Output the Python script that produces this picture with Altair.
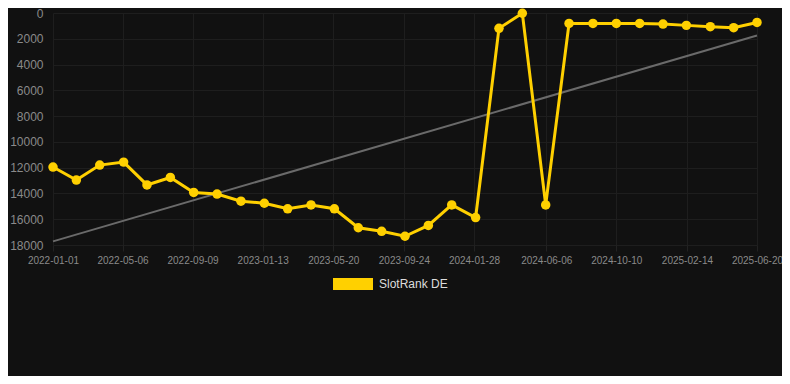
import altair as alt
import pandas as pd

dates = [
    "2022-01-01", "2022-02-12", "2022-03-26", "2022-05-08", "2022-06-19",
    "2022-07-31", "2022-09-11", "2022-10-23", "2022-12-05", "2023-01-16",
    "2023-02-27", "2023-04-10", "2023-05-22", "2023-07-04", "2023-08-15",
    "2023-09-26", "2023-11-07", "2023-12-19", "2024-01-31", "2024-03-13",
    "2024-04-24", "2024-06-05", "2024-07-17", "2024-08-29", "2024-10-10",
    "2024-11-21", "2025-01-02", "2025-02-13", "2025-03-28", "2025-05-09",
    "2025-06-20",
]
ranks = [
    11950, 12960, 11800, 11570, 13340,
    12760, 13920, 14050, 14600, 14760,
    15190, 14890, 15190, 16660, 16940,
    17320, 16480, 14890, 15870, 1190,
    20, 14890, 810, 810, 810,
    810, 860, 960, 1060, 1140,
    735,
]
trend_dates = ["2022-01-01", "2025-06-20"]
trend_values = [17720, 1750]
tick_dates = [
    "2022-01-01", "2022-05-06", "2022-09-09", "2023-01-13", "2023-05-20",
    "2023-09-24", "2024-01-28", "2024-06-06", "2024-10-10", "2025-02-14",
    "2025-06-20",
]
y_ticks = [0, 2000, 4000, 6000, 8000, 10000, 12000, 14000, 16000, 18000]
series_name = "SlotRank DE"

YELLOW = "#FFD000"
FONT = "Arial, Liberation Sans, sans-serif"

df = pd.DataFrame({"date": dates, "rank": ranks, "series": series_name})
trend = pd.DataFrame({"date": trend_dates, "rank": trend_values})

x_enc = alt.X(
    "date:T",
    scale=alt.Scale(domain=["2022-01-01", "2025-06-20"]),
    axis=alt.Axis(
        values=[pd.Timestamp(t).isoformat() for t in tick_dates],
        labelExpr="timeFormat(datum.value, '%Y-%m-%d')",
        title=None,
        grid=True,
        gridColor="#1e1e1e",
        domain=False,
        ticks=True,
        tickColor="#222222",
        tickSize=6,
        labelPadding=4,
        labelColor="#8a8a8a",
        labelFontSize=10,
        labelFont=FONT,
        labelFlush=False,
        labelOverlap=False,
    ),
)
y_enc = alt.Y(
    "rank:Q",
    scale=alt.Scale(domain=[0, 18000], reverse=True, nice=False, zero=False),
    axis=alt.Axis(
        values=y_ticks,
        title=None,
        grid=True,
        gridColor="#1e1e1e",
        domain=False,
        ticks=False,
        labelPadding=10,
        labelColor="#8a8a8a",
        labelFontSize=12,
        labelFont=FONT,
        labelOverlap=False,
        format="d",
    ),
)

color_enc = alt.Color(
    "series:N",
    scale=alt.Scale(domain=[series_name], range=[YELLOW]),
    legend=alt.Legend(
        title=None,
        orient="none",
        legendX=280,
        legendY=251,
        symbolType="M-1,-0.3L1,-0.3L1,0.3L-1,0.3Z",
        symbolSize=1600,
        symbolStrokeWidth=0,
        symbolOpacity=1,
        labelColor="#dddddd",
        labelFontSize=12,
        labelFont=FONT,
        labelOffset=6,
        padding=0,
    ),
)

trend_layer = alt.Chart(trend).mark_line(color="#6a6a6a", strokeWidth=2).encode(
    x=x_enc, y=y_enc
)
line_layer = alt.Chart(df).mark_line(
    strokeWidth=3, strokeJoin="miter", color=YELLOW
).encode(x=x_enc, y=y_enc)
point_layer = alt.Chart(df).mark_point(filled=True, size=90, opacity=1).encode(
    x=x_enc, y=y_enc, color=color_enc
)

chart = (
    alt.layer(trend_layer, line_layer, point_layer)
    .properties(
        width=704,
        height=232,
        background="#111111",
        padding={"left": 45, "top": 5, "right": 25, "bottom": 131},
        autosize=alt.AutoSizeParams(type="none"),
    )
    .configure_view(stroke=None)
)

chart.save("out.html", embed_options={"renderer": "svg", "actions": False})
